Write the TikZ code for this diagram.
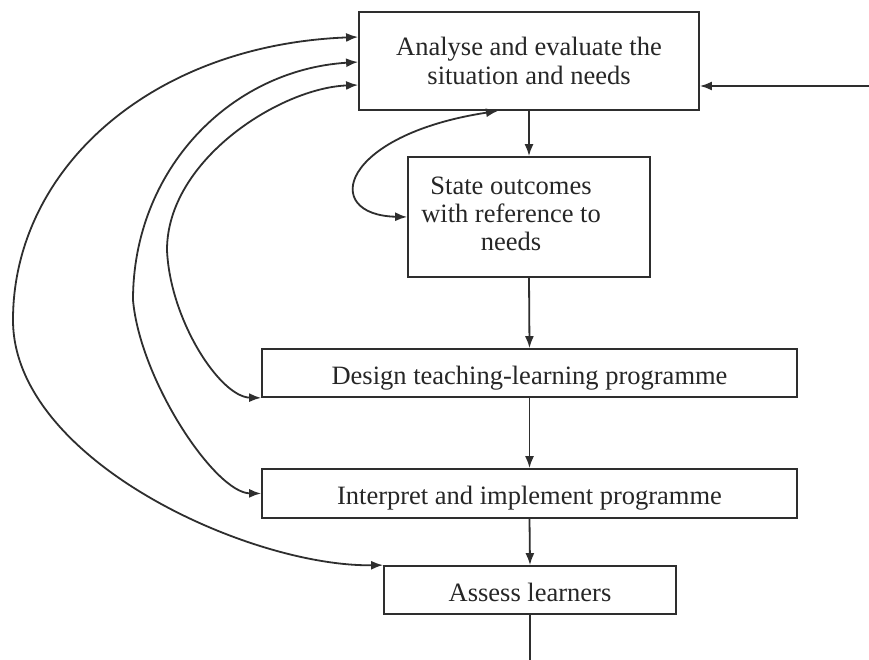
\documentclass[tikz,border=0pt]{standalone}
\usepackage{fontspec}
\setmainfont{Liberation Serif}
\usetikzlibrary{arrows.meta}
\begin{document}
\begin{tikzpicture}[x=1pt,y=-1pt,
  ink/.style={draw=black!82, line width=1.8pt},
  stage/.style={ink, rectangle, inner sep=0pt, align=center, text=black!85,
    font=\fontsize{26.5}{29}\selectfont},
  oneline/.style={text height=22pt, text depth=0pt},
  label/.style={inner sep=0pt, align=center, text=black!85,
    font=\fontsize{26.5}{28}\selectfont},
  tip/.style={-{Latex[length=12pt,width=9pt]}},
  twotip/.style={{Latex[length=12pt,width=9pt]}-{Latex[length=12pt,width=9pt]}}]
  \useasboundingbox[fill=white] (0,0) rectangle (869,660);

  % stages of the cycle
  \node[stage, minimum width=340pt, minimum height=98pt] (analyse) at (529,61)
    {Analyse and evaluate the\\situation and needs};
  \node[stage, minimum width=242pt, minimum height=120pt] (outcomes) at (529,217) {};
  \node[label] (outcomestext) at (511,214) {State outcomes\\with reference to\\needs};
  \node[stage, oneline, minimum width=535pt, minimum height=48pt] (design) at (529.5,373)
    {Design teaching-learning programme};
  \node[stage, oneline, minimum width=535pt, minimum height=49pt] (interpret) at (529.5,493.5)
    {Interpret and implement programme};
  \node[stage, oneline, minimum width=292pt, minimum height=48pt] (assess) at (530,590)
    {Assess learners};

  % main downward flow
  \draw[ink,tip] (analyse.south) -- (outcomes.north);
  \draw[ink,tip] (outcomes.south) -- (design.north);
  \draw[ink,tip] (design.south) -- (interpret.north);
  \draw[ink,tip] (interpret.south) -- (assess.north);

  % input from the right and output at the bottom
  \coordinate (feedin) at (869,86);
  \coordinate (feedout) at (530,660);
  \draw[ink,tip] (feedin) -- (feedin -| analyse.east);
  \draw[ink] (assess.south) -- (feedout);

  % two-way link between the first two stages
  \draw[ink,twotip] (outcomes.west) .. controls (320,215) and (340,135) .. (analyse.south -| 498,0);

  % feedback loops to the first stage
  \draw[ink,twotip] (analyse.west |- 0,37) .. controls (150,45) and (13,170) .. (13,320)
    .. controls (13,460) and (250,567) .. (assess.north west);
  \draw[ink,twotip] (analyse.west |- 0,62) .. controls (230,70) and (133,170) .. (133,300)
    .. controls (140,380) and (215,493) .. (interpret.west);
  \draw[ink,twotip] (analyse.west |- 0,85) .. controls (280,88) and (167,160) .. (167,250)
    .. controls (170,320) and (220,397) .. (design.south west);
\end{tikzpicture}
\end{document}
